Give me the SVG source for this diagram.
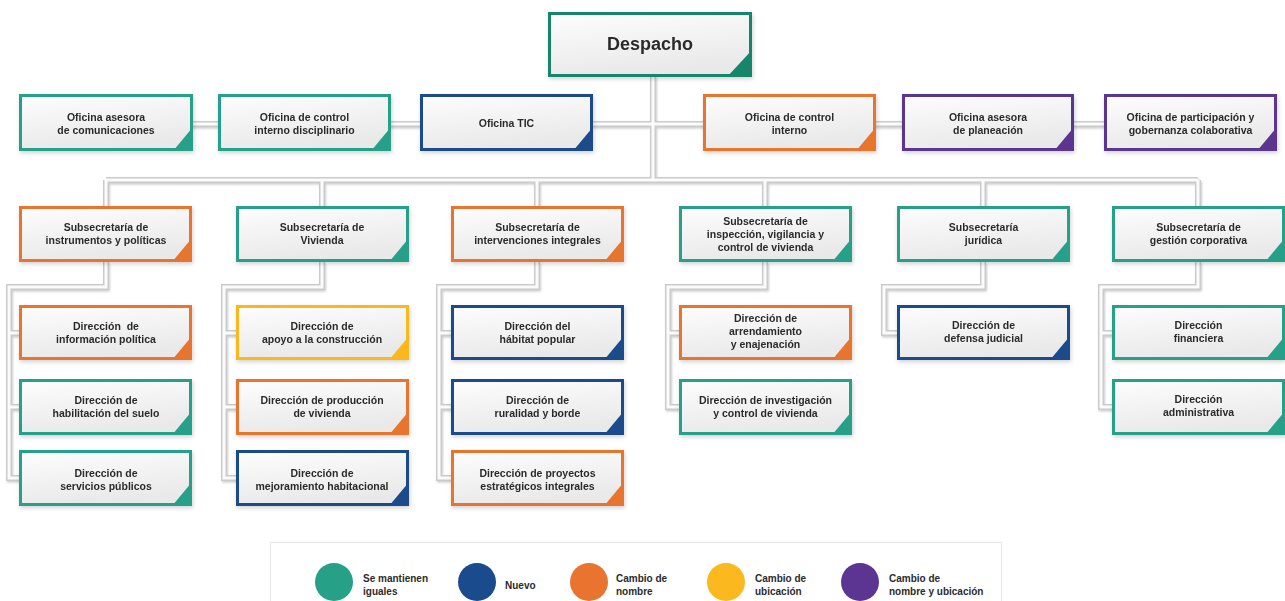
<svg xmlns="http://www.w3.org/2000/svg" width="1285" height="601" viewBox="0 0 1285 601">
<defs>
<linearGradient id="boxfill" x1="0" y1="0" x2="0.3" y2="1">
<stop offset="0" stop-color="#fdfdfd"/>
<stop offset="1" stop-color="#e9e9e9"/>
</linearGradient>
<filter id="shadow" x="-10%" y="-20%" width="120%" height="150%">
<feDropShadow dx="1" dy="2" stdDeviation="2" flood-color="#000" flood-opacity="0.18"/>
</filter>
<filter id="lshadow" x="-5%" y="-5%" width="110%" height="110%">
<feDropShadow dx="1" dy="1.5" stdDeviation="1" flood-color="#000" flood-opacity="0.2"/>
</filter>
</defs>
<style>
.box{fill:url(#boxfill);stroke-width:3}
.node{filter:url(#shadow)}
.teal .box{stroke:#27a088}.teal .corner{fill:#27a088}
.dteal .box{stroke:#17856b}.dteal .corner{fill:#17856b}
.blue .box{stroke:#1a4b8c}.blue .corner{fill:#1a4b8c}
.orange .box{stroke:#e8742f}.orange .corner{fill:#e8742f}
.yellow .box{stroke:#fbb81f}.yellow .corner{fill:#fbb81f}
.purple .box{stroke:#5b3591}.purple .corner{fill:#5b3591}
text{font-family:"Liberation Sans",Arial,sans-serif;font-weight:bold;fill:#2b2b2b}
.t{font-size:10.5px;text-anchor:middle}
.big{font-size:18px;text-anchor:middle}
.lg{font-size:10px}
.c1{fill:none;stroke:#cbcbcb;stroke-width:6}
.c2{fill:none;stroke:#fbfbfb;stroke-width:3}
</style>
<rect width="1285" height="601" fill="#ffffff"/>

<g id="connectors">
<g filter="url(#lshadow)">
<path class="c1" d="M653 76V180 M106 124H1190 M106 180H1198 M106 180V206 M322 180V206 M537 180V206 M765 180V206 M983 180V206 M1198 180V206
M106 262V287H9V478H19 M9 333H19 M9 407H19
M322 262V287H224V478H236 M224 333H236 M224 407H236
M537 262V287H439V478H451 M439 333H451 M439 407H451
M765 262V287H668V407H679 M668 333H679
M983 262V287H884V333H897
M1198 262V287H1101V407H1112 M1101 333H1112"/>
</g>
<path class="c2" d="M653 76V180 M106 124H1190 M106 180H1198 M106 180V206 M322 180V206 M537 180V206 M765 180V206 M983 180V206 M1198 180V206
M106 262V287H9V478H19 M9 333H19 M9 407H19
M322 262V287H224V478H236 M224 333H236 M224 407H236
M537 262V287H439V478H451 M439 333H451 M439 407H451
M765 262V287H668V407H679 M668 333H679
M983 262V287H884V333H897
M1198 262V287H1101V407H1112 M1101 333H1112"/>
</g>

<g id="despacho" class="node dteal">
<rect class="box" x="549.5" y="13.5" width="201" height="62"/>
<path class="corner" d="M752 50V77H727Z"/>
<text class="big" x="650" y="50">Despacho</text>
</g>

<g id="of-comunicaciones" class="node teal">
<rect class="box" x="20.5" y="95.5" width="171" height="54"/>
<path class="corner" d="M193 127V151H173Z"/>
<text class="t" x="106" y="121">Oficina asesora</text>
<text class="t" x="106" y="134">de comunicaciones</text>
</g>
<g id="of-disciplinario" class="node teal">
<rect class="box" x="219.5" y="95.5" width="170" height="54"/>
<path class="corner" d="M391 127V151H371Z"/>
<text class="t" x="304.5" y="121">Oficina de control</text>
<text class="t" x="304.5" y="134">interno disciplinario</text>
</g>
<g id="of-tic" class="node blue">
<rect class="box" x="421.5" y="95.5" width="170" height="54"/>
<path class="corner" d="M593 127V151H573Z"/>
<text class="t" x="506.5" y="127">Oficina TIC</text>
</g>
<g id="of-control" class="node orange">
<rect class="box" x="704.5" y="95.5" width="170" height="54"/>
<path class="corner" d="M876 127V151H856Z"/>
<text class="t" x="789.5" y="121">Oficina de control</text>
<text class="t" x="789.5" y="134">interno</text>
</g>
<g id="of-planeacion" class="node purple">
<rect class="box" x="903.5" y="95.5" width="169" height="54"/>
<path class="corner" d="M1074 127V151H1054Z"/>
<text class="t" x="988" y="121">Oficina asesora</text>
<text class="t" x="988" y="134">de planeación</text>
</g>
<g id="of-participacion" class="node purple">
<rect class="box" x="1105.5" y="95.5" width="170" height="54"/>
<path class="corner" d="M1277 127V151H1257Z"/>
<text class="t" x="1190.5" y="121">Oficina de participación y</text>
<text class="t" x="1190.5" y="134">gobernanza colaborativa</text>
</g>

<g id="sub-instrumentos" class="node orange">
<rect class="box" x="20.5" y="207.5" width="170" height="53"/>
<path class="corner" d="M192 238V262H172Z"/>
<text class="t" x="106" y="231">Subsecretaría de</text>
<text class="t" x="106" y="244">instrumentos y políticas</text>
</g>
<g id="sub-vivienda" class="node teal">
<rect class="box" x="237.5" y="207.5" width="170" height="53"/>
<path class="corner" d="M409 238V262H389Z"/>
<text class="t" x="322" y="231">Subsecretaría de</text>
<text class="t" x="322" y="244">Vivienda</text>
</g>
<g id="sub-intervenciones" class="node orange">
<rect class="box" x="452.5" y="207.5" width="170" height="53"/>
<path class="corner" d="M624 238V262H604Z"/>
<text class="t" x="537.5" y="231">Subsecretaría de</text>
<text class="t" x="537.5" y="244">intervenciones integrales</text>
</g>
<g id="sub-inspeccion" class="node teal">
<rect class="box" x="680.5" y="207.5" width="170" height="53"/>
<path class="corner" d="M852 238V262H832Z"/>
<text class="t" x="765.5" y="225">Subsecretaría de</text>
<text class="t" x="765.5" y="237.5">inspección, vigilancia y</text>
<text class="t" x="765.5" y="250.5">control de vivienda</text>
</g>
<g id="sub-juridica" class="node teal">
<rect class="box" x="898.5" y="207.5" width="170" height="53"/>
<path class="corner" d="M1070 238V262H1050Z"/>
<text class="t" x="983.5" y="231">Subsecretaría</text>
<text class="t" x="983.5" y="244">jurídica</text>
</g>
<g id="sub-gestion" class="node teal">
<rect class="box" x="1113.5" y="207.5" width="170" height="53"/>
<path class="corner" d="M1285 238V262H1265Z"/>
<text class="t" x="1198.5" y="231">Subsecretaría de</text>
<text class="t" x="1198.5" y="244">gestión corporativa</text>
</g>

<g id="dir-informacion" class="node orange">
<rect class="box" x="20.5" y="306.5" width="170" height="52"/>
<path class="corner" d="M192 336V360H172Z"/>
<text class="t" x="106" y="330">Dirección&#160; de</text>
<text class="t" x="106" y="343">información política</text>
</g>
<g id="dir-suelo" class="node teal">
<rect class="box" x="20.5" y="380.5" width="170" height="53"/>
<path class="corner" d="M192 411V435H172Z"/>
<text class="t" x="106" y="404">Dirección de</text>
<text class="t" x="106" y="417">habilitación del suelo</text>
</g>
<g id="dir-servicios" class="node teal">
<rect class="box" x="20.5" y="451.5" width="170" height="53"/>
<path class="corner" d="M192 482V506H172Z"/>
<text class="t" x="106" y="477">Dirección de</text>
<text class="t" x="106" y="490">servicios públicos</text>
</g>

<g id="dir-apoyo" class="node yellow">
<rect class="box" x="237.5" y="306.5" width="170" height="52"/>
<path class="corner" d="M409 336V360H389Z"/>
<text class="t" x="322" y="330">Dirección de</text>
<text class="t" x="322" y="343">apoyo a la construcción</text>
</g>
<g id="dir-produccion" class="node orange">
<rect class="box" x="237.5" y="380.5" width="170" height="53"/>
<path class="corner" d="M409 411V435H389Z"/>
<text class="t" x="322" y="404">Dirección de producción</text>
<text class="t" x="322" y="417">de vivienda</text>
</g>
<g id="dir-mejoramiento" class="node blue">
<rect class="box" x="237.5" y="451.5" width="170" height="53"/>
<path class="corner" d="M409 482V506H389Z"/>
<text class="t" x="322" y="477">Dirección de</text>
<text class="t" x="322" y="490">mejoramiento habitacional</text>
</g>

<g id="dir-habitat" class="node blue">
<rect class="box" x="452.5" y="306.5" width="170" height="52"/>
<path class="corner" d="M624 336V360H604Z"/>
<text class="t" x="537.5" y="330">Dirección del</text>
<text class="t" x="537.5" y="343">hábitat popular</text>
</g>
<g id="dir-ruralidad" class="node blue">
<rect class="box" x="452.5" y="380.5" width="170" height="53"/>
<path class="corner" d="M624 411V435H604Z"/>
<text class="t" x="537.5" y="404">Dirección de</text>
<text class="t" x="537.5" y="417">ruralidad y borde</text>
</g>
<g id="dir-proyectos" class="node orange">
<rect class="box" x="452.5" y="451.5" width="170" height="53"/>
<path class="corner" d="M624 482V506H604Z"/>
<text class="t" x="537.5" y="477">Dirección de proyectos</text>
<text class="t" x="537.5" y="490">estratégicos integrales</text>
</g>

<g id="dir-arrendamiento" class="node orange">
<rect class="box" x="680.5" y="306.5" width="170" height="52"/>
<path class="corner" d="M852 336V360H832Z"/>
<text class="t" x="765.5" y="322">Dirección de</text>
<text class="t" x="765.5" y="335">arrendamiento</text>
<text class="t" x="765.5" y="348">y enajenación</text>
</g>
<g id="dir-investigacion" class="node teal">
<rect class="box" x="680.5" y="380.5" width="170" height="53"/>
<path class="corner" d="M852 411V435H832Z"/>
<text class="t" x="765.5" y="404">Dirección de investigación</text>
<text class="t" x="765.5" y="417">y control de vivienda</text>
</g>

<g id="dir-defensa" class="node blue">
<rect class="box" x="898.5" y="306.5" width="170" height="52"/>
<path class="corner" d="M1070 336V360H1050Z"/>
<text class="t" x="983.5" y="329">Dirección de</text>
<text class="t" x="983.5" y="342">defensa judicial</text>
</g>

<g id="dir-financiera" class="node teal">
<rect class="box" x="1113.5" y="306.5" width="170" height="52"/>
<path class="corner" d="M1285 336V360H1265Z"/>
<text class="t" x="1198.5" y="329">Dirección</text>
<text class="t" x="1198.5" y="342">financiera</text>
</g>
<g id="dir-administrativa" class="node teal">
<rect class="box" x="1113.5" y="380.5" width="170" height="53"/>
<path class="corner" d="M1285 411V435H1265Z"/>
<text class="t" x="1198.5" y="403">Dirección</text>
<text class="t" x="1198.5" y="416">administrativa</text>
</g>

<g id="legend">
<rect x="270.5" y="542.5" width="731" height="70" fill="#ffffff" stroke="#e6e6e6" stroke-width="1"/>
<circle cx="334" cy="582" r="19" fill="#27a088"/>
<text class="lg" x="363" y="582">Se mantienen</text>
<text class="lg" x="363" y="595">iguales</text>
<circle cx="477" cy="582" r="19" fill="#1a4b8c"/>
<text class="lg" x="505" y="589">Nuevo</text>
<circle cx="589" cy="582" r="19" fill="#e8742f"/>
<text class="lg" x="616" y="582">Cambio de</text>
<text class="lg" x="616" y="595">nombre</text>
<circle cx="726" cy="582" r="19" fill="#fbb81f"/>
<text class="lg" x="755" y="582">Cambio de</text>
<text class="lg" x="755" y="595">ubicación</text>
<circle cx="860" cy="582" r="19" fill="#5b3591"/>
<text class="lg" x="889" y="582">Cambio de</text>
<text class="lg" x="889" y="595">nombre y ubicación</text>
</g>
</svg>
